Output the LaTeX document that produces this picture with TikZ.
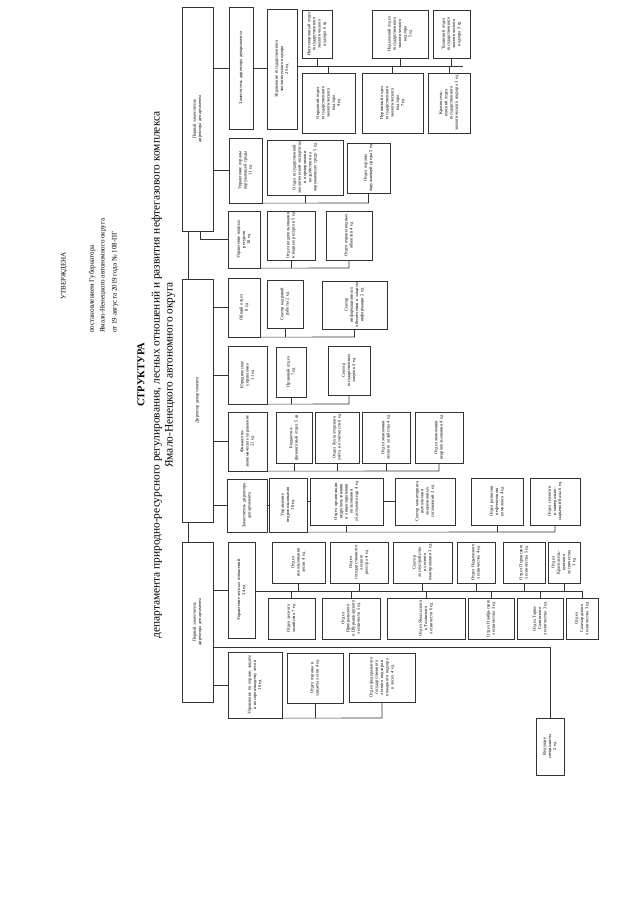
\documentclass[tikz,border=0pt]{standalone}
\usepackage{fontspec}
\setmainfont{Liberation Serif}
\usetikzlibrary{calc}

\newcommand{\boxfont}{\fontsize{4.5}{5.2}\selectfont}

\begin{document}
\begin{tikzpicture}[x=1pt, y=1pt,
    box/.style 2 args={draw=black!80, line width=0.6pt, rotate=90, align=center, inner sep=0.8pt, text width=#1, minimum height=#2, font=\boxfont},
    link/.style={draw=black!80, line width=0.6pt},
    head/.style={rotate=90, anchor=west, inner sep=0pt, font=\fontsize{7}{8}\selectfont},
    ttl/.style={rotate=90, inner sep=0pt, font=\fontsize{10.5}{12}\selectfont\bfseries},
    sub/.style={rotate=90, inner sep=0pt, font=\fontsize{11.4}{13}\selectfont}
]
\useasboundingbox[fill=white] (0,0) rectangle (640,-905);

\node[head] (utv) at (64,-300) {УТВЕРЖДЕНА};
\node[head] (post) at (92,-333) {постановлением Губернатора};
\node[head] (yanao) at (103,-333) {Ямало-Ненецкого автономного округа};
\node[head] (date) at (115,-333) {от 19 августа 2019 года № 108-ПГ};
\node[ttl] (title) at (141,-375) {СТРУКТУРА};
\node[sub] (sub1) at (157,-375) {департамента природно-ресурсного регулирования, лесных отношений и развития нефтегазового комплекса};
\node[sub] (sub2) at (170,-375) {Ямало-Ненецкого автономного округа};

% первый заместитель (экология, воды)
\node[box={222pt}{31pt}] (fdA) at (197.5,-119) {Первый заместитель\\директора департамента};
\node[box={120pt}{24pt}] (zdA) at (241,-68) {Заместитель директора департамента};
\node[box={118pt}{30pt}] (ugen) at (282,-69) {Управление государственного\\экологического надзора\\25 ед};
\node[box={46pt}{30pt}] (inspA) at (317,-34) {Инспекционный отдел государственного экологического надзора 6 ед};
\node[box={46pt}{56pt}] (nadA) at (400,-34) {Надымский отдел\\государственного\\экологического\\надзора\\5 ед};
\node[box={46pt}{37pt}] (tazA) at (451.5,-34) {Тазовский отдел государственного экологического надзора 3 ед};
\node[box={58pt}{53pt}] (okrB) at (328.5,-103) {Окружной отдел\\государственного\\экологического\\надзора\\9 ед};
\node[box={58pt}{61pt}] (purB) at (392.5,-103) {Пуровский отдел\\государственного\\экологического\\надзора\\7 ед};
\node[box={58pt}{42pt}] (krsB) at (449,-103) {Красносель-\\купский отдел государственного экологического надзора 3 ед};
\coordinate (busN) at (463,-66);

\node[box={63pt}{33pt}] (uoos) at (245.5,-170.5) {Управление охраны\\окружающей среды\\11 ед};
\node[box={53pt}{76pt}] (expz) at (305,-167.5) {Отдел государственной экологической экспертизы и нормирования воздействия на окружающую среду 5 ед};
\node[box={48pt}{43pt}] (ooos) at (368.5,-168) {Отдел охраны окружающей среды 5 ед};
\coordinate (railOk) at (368.5,-203);

\node[box={55pt}{32pt}] (uvr) at (244,-239.5) {Управление водных\\ресурсов\\10 ед};
\node[box={47pt}{48pt}] (ovod) at (291,-235.5) {Отдел водопользования и водных ресурсов 5 ед};
\node[box={47pt}{46pt}] (oohv) at (349,-235.5) {Отдел охраны водных объектов 4 ед};
\coordinate (railVod) at (349,-268);

\draw[link] (fdA.south |- zdA.north) -- (zdA.north);
\draw[link] (zdA.south) -- (zdA.south -| ugen.north);
\draw[link] (ugen.south |- busN) -- (busN);
\draw[link] (inspA.west) -- (inspA.west |- busN);
\draw[link] (nadA.west) -- (nadA.west |- busN);
\draw[link] (tazA.west) -- (tazA.west |- busN);
\draw[link] (okrB.east) -- (okrB.east |- busN);
\draw[link] (purB.east) -- (purB.east |- busN);
\draw[link] (krsB.east) -- (krsB.east |- busN);
\draw[link] (fdA.south |- uoos.north) -- (uoos.north);
\draw[link] (uoos.south west) -- (railOk) -- (ooos.west);
\draw[link] (expz.west) -- (expz.west |- railOk);
\draw[link] ([xshift=2.5pt]fdA.west) |- (uvr.north);
\draw[link] (uvr.south west) -- (railVod) -- (oohv.west);
\draw[link] (ovod.west) -- (ovod.west |- railVod);

% директор
\node[box={241pt}{31pt}] (dir) at (197.5,-400.5) {Директор департамента};
\draw[link] ([xshift=-9.5pt]fdA.west) -- ([xshift=-9.5pt]dir.east);

\node[box={57pt}{32pt}] (obsh) at (244,-307.5) {Общий отдел\\8 ед};
\node[box={46pt}{36pt}] (kadr) at (285,-304) {Сектор кадровой работы 2 ед};
\node[box={46pt}{65pt}] (info) at (354.5,-305) {Сектор информационного обеспечения и защиты информации 2 ед};
\coordinate (railOb) at (354.5,-337);

\node[box={56pt}{39pt}] (yur) at (247.5,-375) {Юридическое\\управление\\11 ед};
\node[box={48pt}{30pt}] (prav) at (291,-372) {Правовой отдел\\7 ед};
\node[box={47pt}{42pt}] (zak) at (349,-370.5) {Сектор государственных закупок 3 ед};
\coordinate (railYu) at (349,-404);

\node[box={57pt}{39pt}] (fin) at (247.5,-441.5) {Финансово-экономическое управление\\21 ед};
\node[box={49pt}{36pt}] (bud) at (294,-437.5) {Бюджетно-финансовый отдел 5 ед};
\node[box={49pt}{44pt}] (buh) at (337,-437.5) {Отдел бухгалтерского учёта и отчётности 6 ед};
\node[box={49pt}{48pt}] (elh) at (386,-437.5) {Отдел экономики лесного хозяйства 4 ед};
\node[box={49pt}{48pt}] (enp) at (439,-437.5) {Отдел экономики недропользования 4 ед};
\coordinate (railFi) at (439,-471);

\node[box={51pt}{40pt}] (zdB) at (247,-505.5) {Заместитель директора департамента};
\node[box={52pt}{38pt}] (unedr) at (288,-505) {Управление недропользования\\18 ед};
\node[box={45pt}{73pt}] (olic) at (346.5,-501.5) {Отдел организации недропользования и лицензирования пользования участками недр 4 ед};
\node[box={45pt}{60pt}] (smon) at (425,-501.5) {Сектор мониторинга выполнения лицензионных соглашений 3 ед};
\node[box={45pt}{52pt}] (ongk) at (497,-501.5) {Отдел развития нефтегазового комплекса 4 ед};
\node[box={45pt}{50pt}] (ogeo) at (555,-501.5) {Отдел геологии и минерально-сырьевой базы 6 ед};
\coordinate (railNd) at (555,-532);

\draw[link] (dir.south |- obsh.north) -- (obsh.north);
\draw[link] (obsh.south west) -- (railOb) -- (info.west);
\draw[link] (kadr.west) -- (kadr.west |- railOb);
\draw[link] (dir.south |- yur.north) -- (yur.north);
\draw[link] (yur.south west) -- (railYu) -- (zak.west);
\draw[link] (prav.west) -- (prav.west |- railYu);
\draw[link] (dir.south |- fin.north) -- (fin.north);
\draw[link] (fin.south west) -- (railFi) -- (enp.west);
\draw[link] (bud.west) -- (bud.west |- railFi);
\draw[link] (buh.west) -- (buh.west |- railFi);
\draw[link] (elh.west) -- (elh.west |- railFi);
\draw[link] (dir.south |- zdB.north) -- (zdB.north);
\draw[link] (zdB.south) -- (zdB.south -| unedr.north);
\draw[link] (unedr.south |- olic.north) -- (olic.north);
\draw[link] (olic.south) -- (smon.north);
\draw[link] (unedr.south west) -- (railNd) -- (ogeo.west);
\draw[link] (olic.west) -- (olic.west |- railNd);
\draw[link] (ongk.west) -- (ongk.west |- railNd);

% первый заместитель (леса)
\node[box={158pt}{31pt}] (fdB) at (197.5,-622) {Первый заместитель\\директора департамента};
\draw[link] ([xshift=-9.5pt]dir.west) -- ([xshift=-9.5pt]fdB.east);

\node[box={94pt}{27pt}] (ules) at (241.5,-590) {Управление лесных отношений\\34 ед};
\node[box={39pt}{53pt}] (lisp) at (298.5,-562.5) {Отдел использования лесов 4 ед};
\node[box={39pt}{58pt}] (lrst) at (359,-562.5) {Отдел государственного лесного реестра 4 ед};
\node[box={39pt}{59pt}] (lust) at (422.5,-562.5) {Сектор лесоустройства и лесного планирования 3 ед};
\node[box={39pt}{38pt}] (lnad) at (476,-562.5) {Отдел Надымского лесничества 4 ед};
\node[box={39pt}{42pt}] (lpur) at (524,-562.5) {Отдел Пуровского лесничества 5 ед};
\node[box={39pt}{32pt}] (lkrs) at (564,-562.5) {Отдел\\Красносель-\\купского\\лесничества\\3 ед};
\node[box={39pt}{47pt}] (mlh) at (291.5,-618.5) {Отдел лесного хозяйства 7 ед};
\node[box={39pt}{58pt}] (mpri) at (351,-618.5) {Отдел Приуральского и Шурышкарского лесничеств 5 ед};
\node[box={39pt}{78pt}] (myam) at (426,-618.5) {Отдел Ямальского и Тазовского лесничеств 6 ед};
\node[box={39pt}{46pt}] (mnoy) at (491,-618.5) {Отдел Ноябрьского лесничества 3 ед};
\node[box={39pt}{46pt}] (mtar) at (540,-618.5) {Отдел Тарко-Салинского лесничества 3 ед};
\node[box={39pt}{32pt}] (msal) at (582,-618.5) {Отдел Салехард\-ского лесничества 3 ед};
\coordinate (railLs) at (582,-591);

\node[box={64pt}{54pt}] (uohr) at (255,-685) {Управление по охране, защите и воспроизводству лесов\\10 ед};
\node[box={48pt}{56pt}] (ozl) at (315,-678) {Отдел охраны и защиты лесов 4 ед};
\node[box={47pt}{66pt}] (olkn) at (382,-677.5) {Отдел федерального государственного лесного надзора и пожарного надзора в лесах 4 ед};
\coordinate (railOh) at (382,-718);

\node[box={55pt}{28pt}] (ved) at (550,-746.5) {Ведущие\\специалисты\\2 ед};
\coordinate (vedJ) at (550,-647);

\draw[link] (fdB.south |- ules.north) -- (ules.north);
\draw[link] (ules.south |- railLs) -- (railLs) -- (msal.east);
\draw[link] (lisp.west) -- (lisp.west |- railLs);
\draw[link] (lrst.west) -- (lrst.west |- railLs);
\draw[link] (lust.west) -- (lust.west |- railLs);
\draw[link] (lnad.west) -- (lnad.west |- railLs);
\draw[link] (lpur.west) -- (lpur.west |- railLs);
\draw[link] (lkrs.west) -- (lkrs.west |- railLs);
\draw[link] (mlh.east) -- (mlh.east |- railLs);
\draw[link] (mpri.east) -- (mpri.east |- railLs);
\draw[link] (myam.east) -- (myam.east |- railLs);
\draw[link] (mnoy.east) -- (mnoy.east |- railLs);
\draw[link] (mtar.east) -- (mtar.east |- railLs);
\draw[link] (fdB.south |- uohr.north) -- (uohr.north);
\draw[link] (uohr.south west) -- (railOh) -- (olkn.west);
\draw[link] (ozl.west) -- (ozl.west |- railOh);
\draw[link] (fdB.south |- vedJ) -- (vedJ) -- (ved.east);
\end{tikzpicture}
\end{document}
